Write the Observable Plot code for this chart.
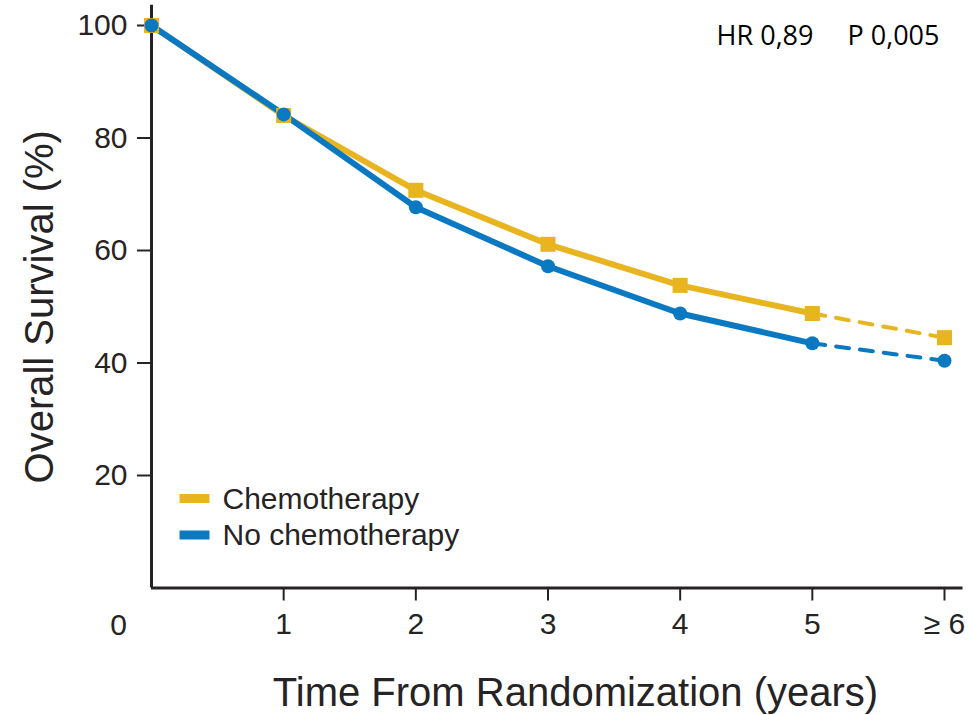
<!DOCTYPE html>
<html>
<head>
<meta charset="utf-8">
<script src="https://cdn.jsdelivr.net/npm/d3@7"></script>
<script src="https://cdn.jsdelivr.net/npm/@observablehq/plot@0.6"></script>
<style>
  html, body { margin: 0; padding: 0; background: #fff; }
  #chart { width: 972px; height: 715px; }
</style>
</head>
<body>
<div id="chart"></div>
<script>
// ---- data ----
const years = [0, 1, 2, 3, 4, 5, 6];
const xTickValues = [1, 2, 3, 4, 5, 6];
const xTickLabels = ["1", "2", "3", "4", "5", "\u2265 6"];
const yTickValues = [20, 40, 60, 80, 100];
const chemo = [100, 84, 70.7, 61.1, 53.8, 48.8, 44.5];
const noChemo = [100, 84.2, 67.7, 57.2, 48.8, 43.5, 40.4];
const seriesNames = ["Chemotherapy", "No chemotherapy"];
const annotations = ["HR 0,89", "P 0,005"];

const YELLOW = "#E8B520";
const BLUE = "#0A79C2";
const INK = "#262324";
const FONT = "'Liberation Sans', Arial, Helvetica, sans-serif";

const rows = (vals) => years.map((y, i) => ({year: y, value: vals[i]}));
const chemoRows = rows(chemo);
const noChemoRows = rows(noChemo);
const solid = (r) => r.filter(d => d.year <= 5);
const dashed = (r) => r.filter(d => d.year >= 5);

const swatch = {draw(ctx) { ctx.rect(-15, -4.5, 30, 9); }};

const plot = Plot.plot({
  width: 972,
  height: 715,
  marginLeft: 151,
  marginRight: 28,
  marginTop: 25,
  marginBottom: 127.5,
  style: {fontFamily: FONT, color: INK, background: "#fff", overflow: "visible"},
  x: {domain: [0, 6]},
  y: {domain: [0, 100]},
  marks: [
    // axis lines
    Plot.ruleX([0], {y1: 0, y2: 103.6, stroke: INK, strokeWidth: 3, clip: false}),
    Plot.ruleY([0], {x1: 0, x2: 6.14, stroke: INK, strokeWidth: 3, clip: false}),
    Plot.axisY({ticks: yTickValues, tickSize: 14, tickPadding: 10, fontSize: 30, stroke: INK, strokeWidth: 2, fill: INK, label: null}),
    Plot.axisX({ticks: xTickValues, tickFormat: (d) => xTickLabels[xTickValues.indexOf(d)], tickSize: 13, tickPadding: 12, fontSize: 30, stroke: INK, strokeWidth: 2, fill: INK, label: null}),
    Plot.text(["0"], {frameAnchor: "bottom-left", dx: -33, dy: 25.5, lineAnchor: "top", textAnchor: "middle", fontSize: 30, fill: INK}),
    // axis titles
    Plot.text(["Overall Survival (%)"], {frameAnchor: "left", rotate: -90, dx: -99, dy: 0, lineAnchor: "bottom", textAnchor: "middle", fontSize: 40, fill: INK}),
    Plot.text(["Time From Randomization (years)"], {frameAnchor: "bottom", dx: 27.5, dy: 117.5, lineAnchor: "bottom", textAnchor: "middle", fontSize: 40, fill: INK}),
    // series
    Plot.line(solid(chemoRows), {x: "year", y: "value", stroke: YELLOW, strokeWidth: 6}),
    Plot.line(dashed(chemoRows), {x: "year", y: "value", stroke: YELLOW, strokeWidth: 4, strokeDasharray: "13,11"}),
    Plot.line(solid(noChemoRows), {x: "year", y: "value", stroke: BLUE, strokeWidth: 6}),
    Plot.line(dashed(noChemoRows), {x: "year", y: "value", stroke: BLUE, strokeWidth: 4, strokeDasharray: "13,11"}),
    Plot.dot(chemoRows, {x: "year", y: "value", symbol: "square", r: 8.5, fill: YELLOW, stroke: "none"}),
    Plot.dot(noChemoRows, {x: "year", y: "value", symbol: "circle", r: 7, fill: BLUE, stroke: "none"}),
    // legend
    Plot.dot([seriesNames[0]], {frameAnchor: "bottom-left", dx: 43, dy: -89.5, symbol: swatch, fill: YELLOW, stroke: "none", r: 1}),
    Plot.dot([seriesNames[1]], {frameAnchor: "bottom-left", dx: 43, dy: -53, symbol: swatch, fill: BLUE, stroke: "none", r: 1}),
    Plot.text([seriesNames[0]], {frameAnchor: "bottom-left", dx: 71, dy: -79.5, lineAnchor: "bottom", textAnchor: "start", fontSize: 30, fill: INK}),
    Plot.text([seriesNames[1]], {frameAnchor: "bottom-left", dx: 71, dy: -43.5, lineAnchor: "bottom", textAnchor: "start", fontSize: 30, fill: INK}),
    // annotation
    Plot.text([annotations[0]], {frameAnchor: "top-right", dx: -131, dy: 19, lineAnchor: "bottom", textAnchor: "end", fontSize: 27, fill: "#000", fontFamily: "'Open Sans', 'Liberation Sans', sans-serif"}),
    Plot.text([annotations[1]], {frameAnchor: "top-right", dx: -5, dy: 19, lineAnchor: "bottom", textAnchor: "end", fontSize: 27, fill: "#000", fontFamily: "'Open Sans', 'Liberation Sans', sans-serif"})
  ]
});
document.getElementById("chart").appendChild(plot);
</script>
</body>
</html>
